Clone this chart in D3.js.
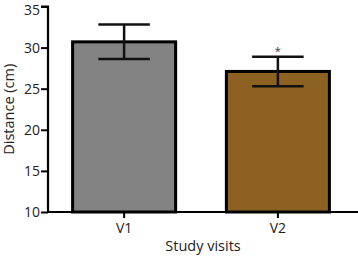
<!DOCTYPE html>
<html>
<head>
<meta charset="utf-8">
<script src="https://cdn.jsdelivr.net/npm/d3@7"></script>
<style>
  body { margin: 0; background: #fff; }
  svg { display: block; font-family: "Open Sans", "Noto Sans", sans-serif; }
</style>
</head>
<body>
<svg></svg>
<script>
let visits = ['V1', 'V2']
let means = [30.7, 27.1]
let errors = [2.1, 1.8]
let colors = ['#838383', '#8d6122']
let marks = ['', '*']
let yTicks = [10, 15, 20, 25, 30, 35]

let width = 358
let height = 257

let svg = d3.select('svg')
            .attr('width', width)
            .attr('height', height)

let x = d3.scaleBand()
          .domain(visits)
          .range([48, 354])
          .paddingInner(0.33)
          .paddingOuter(0.16)

let y = d3.scaleLinear()
          .domain([10, 35])
          .range([212, 6.5])

let data = visits.map((v, i) => ({visit: v, mean: means[i], err: errors[i], color: colors[i], mark: marks[i]}))

// bars
svg.selectAll('rect.bar')
   .data(data)
   .enter()
   .append('rect')
   .attr('class', 'bar')
   .attr('x', d => x(d.visit))
   .attr('width', x.bandwidth())
   .attr('y', d => y(d.mean))
   .attr('height', d => y(10) - y(d.mean))
   .attr('fill', d => d.color)
   .attr('stroke', '#000')
   .attr('stroke-width', 3)

// error bars
let eb = svg.selectAll('g.err')
            .data(data)
            .enter()
            .append('g')
            .attr('stroke', '#111')
            .attr('stroke-width', 2.5)

eb.append('line')
  .attr('x1', d => x(d.visit) + x.bandwidth() / 2)
  .attr('x2', d => x(d.visit) + x.bandwidth() / 2)
  .attr('y1', d => y(d.mean - d.err))
  .attr('y2', d => y(d.mean + d.err))

eb.selectAll('line.cap')
  .data(d => [d.mean - d.err, d.mean + d.err].map(v => ({visit: d.visit, v: v})))
  .enter()
  .append('line')
  .attr('class', 'cap')
  .attr('x1', d => x(d.visit) + x.bandwidth() / 4)
  .attr('x2', d => x(d.visit) + x.bandwidth() * 3 / 4)
  .attr('y1', d => y(d.v))
  .attr('y2', d => y(d.v))

// significance star
svg.selectAll('text.mark')
   .data(data)
   .enter()
   .append('text')
   .attr('x', d => x(d.visit) + x.bandwidth() / 2)
   .attr('y', d => y(d.mean + d.err) - 2)
   .attr('text-anchor', 'middle')
   .attr('font-size', 11)
   .attr('fill', '#333')
   .text(d => d.mark)

// y axis
let yAxis = svg.append('g')
   .attr('transform', 'translate(48,0)')
   .call(d3.axisLeft(y).tickValues(yTicks).tickSize(7).tickPadding(1))
yAxis.select('.domain').attr('stroke-width', 2.2).attr('d', 'M-7,' + y(35) + 'H0V' + y(10))
yAxis.selectAll('.tick line').attr('stroke-width', 2)
yAxis.selectAll('.tick text')
   .attr('font-size', 14)
   .attr('font-family', '"Open Sans", sans-serif')
   .attr('fill', '#222')
   .attr('y', d => d === 35 ? 3.5 : 0)

// x axis
let xAxis = svg.append('g')
   .attr('transform', 'translate(0,212)')
   .call(d3.axisBottom(x).tickSize(6).tickPadding(5))
xAxis.select('.domain').attr('stroke-width', 2).attr('d', 'M48,0H' + width)
xAxis.selectAll('.tick line').attr('stroke-width', 2)
xAxis.selectAll('.tick text').attr('font-size', 14).attr('font-family', '"Open Sans", sans-serif').attr('fill', '#222')

svg.append('text')
   .attr('x', 203)
   .attr('y', 251)
   .attr('text-anchor', 'middle')
   .attr('font-size', 14.5)
   .attr('fill', '#222')
   .text('Study visits')

svg.append('text')
   .attr('transform', 'translate(14,' + y(22.5) + ') rotate(-90)')
   .attr('text-anchor', 'middle')
   .attr('font-size', 14.5)
   .attr('fill', '#222')
   .text('Distance (cm)')
</script>
</body>
</html>
